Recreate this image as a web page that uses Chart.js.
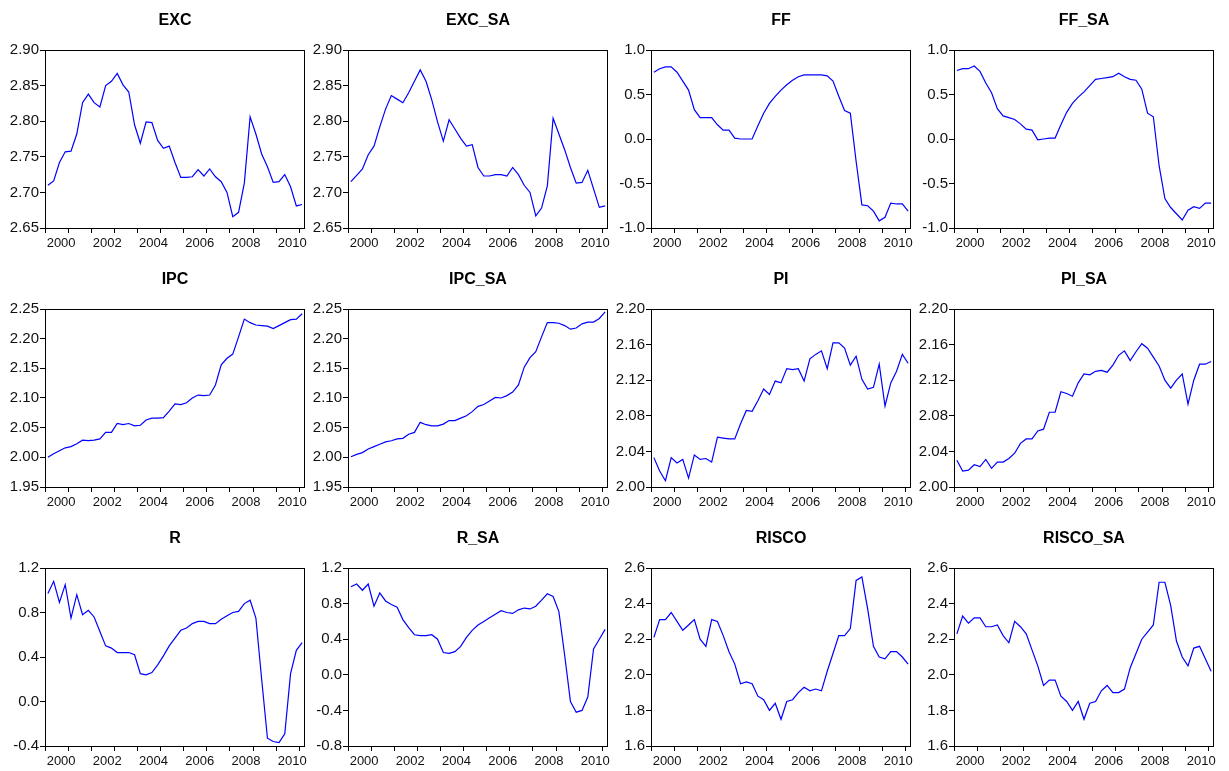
<!DOCTYPE html>
<html>
<head>
<meta charset="utf-8">
<script src="https://cdn.jsdelivr.net/npm/chart.js@4.4.0/dist/chart.umd.min.js"></script>
<style>
  body { margin: 0; background: #fff; width: 1229px; height: 771px; position: relative; overflow: hidden; }
  canvas { position: absolute; }
</style>
</head>
<body>
<script>
// quarterly sample 1999Q1 - 2010Q1
var quarters = [];
for (var yr = 1999; yr <= 2010; yr++) {
  for (var q = 1; q <= 4; q++) {
    if (quarters.length < 45) quarters.push(yr + 'Q' + q);
  }
}
var yearTicks = [1999, 2000, 2001, 2002, 2003, 2004, 2005, 2006, 2007, 2008, 2009, 2010];
var yearLabels = ['', '2000', '', '2002', '', '2004', '', '2006', '', '2008', '', '2010'];

// series values
var exc = [2.710, 2.716, 2.742, 2.757, 2.758, 2.782, 2.826, 2.838, 2.826, 2.820, 2.850, 2.856, 2.867, 2.851, 2.841,
  2.795, 2.769, 2.799, 2.798, 2.773, 2.762, 2.765, 2.742, 2.721, 2.721, 2.722, 2.732, 2.723, 2.733, 2.722,
  2.715, 2.700, 2.666, 2.672, 2.713, 2.806, 2.782, 2.754, 2.736, 2.714, 2.715, 2.725, 2.708, 2.681, 2.683];
var excSa = [2.715, 2.724, 2.733, 2.753, 2.765, 2.792, 2.817, 2.836, 2.831, 2.826, 2.840, 2.856, 2.872, 2.856, 2.830,
  2.799, 2.772, 2.802, 2.789, 2.776, 2.765, 2.767, 2.735, 2.723, 2.723, 2.725, 2.725, 2.723, 2.735, 2.725,
  2.710, 2.700, 2.667, 2.678, 2.709, 2.804, 2.782, 2.760, 2.735, 2.713, 2.714, 2.731, 2.705, 2.679, 2.681];
var ff = [0.75, 0.79, 0.81, 0.81, 0.75, 0.65, 0.55, 0.33, 0.24, 0.24, 0.24, 0.16, 0.10, 0.10, 0.01,
  0.00, 0.00, 0.00, 0.15, 0.29, 0.40, 0.48, 0.55, 0.61, 0.66, 0.70, 0.72, 0.72, 0.72, 0.72,
  0.71, 0.65, 0.48, 0.32, 0.29, -0.25, -0.74, -0.75, -0.81, -0.92, -0.88, -0.72, -0.73, -0.73, -0.81];
var ffSa = [0.77, 0.79, 0.79, 0.82, 0.76, 0.63, 0.52, 0.34, 0.26, 0.24, 0.22, 0.17, 0.11, 0.10, -0.01,
  0.00, 0.01, 0.01, 0.16, 0.30, 0.40, 0.47, 0.53, 0.60, 0.67, 0.68, 0.69, 0.70, 0.74, 0.70,
  0.67, 0.66, 0.56, 0.29, 0.25, -0.30, -0.67, -0.77, -0.84, -0.91, -0.80, -0.76, -0.78, -0.72, -0.72];
var ipc = [2.000, 2.006, 2.011, 2.016, 2.018, 2.023, 2.029, 2.028, 2.029, 2.031, 2.042, 2.042, 2.057, 2.055, 2.057,
  2.053, 2.054, 2.063, 2.066, 2.066, 2.067, 2.078, 2.090, 2.089, 2.092, 2.100, 2.105, 2.104, 2.105, 2.122,
  2.156, 2.167, 2.174, 2.203, 2.233, 2.227, 2.223, 2.222, 2.221, 2.217, 2.222, 2.227, 2.232, 2.233, 2.242];
var ipcSa = [2.001, 2.005, 2.008, 2.014, 2.018, 2.022, 2.026, 2.028, 2.031, 2.032, 2.039, 2.042, 2.059, 2.055, 2.053,
  2.053, 2.056, 2.062, 2.062, 2.066, 2.070, 2.077, 2.086, 2.089, 2.095, 2.101, 2.100, 2.104, 2.110, 2.122,
  2.152, 2.168, 2.178, 2.203, 2.227, 2.227, 2.226, 2.222, 2.216, 2.218, 2.225, 2.228, 2.228, 2.234, 2.245];
var pi = [2.033, 2.018, 2.007, 2.033, 2.027, 2.031, 2.010, 2.036, 2.031, 2.032, 2.028, 2.056, 2.055, 2.054, 2.054,
  2.071, 2.086, 2.085, 2.097, 2.110, 2.104, 2.119, 2.117, 2.133, 2.132, 2.133, 2.119, 2.144, 2.149, 2.153,
  2.133, 2.162, 2.162, 2.156, 2.137, 2.147, 2.121, 2.110, 2.112, 2.138, 2.091, 2.117, 2.130, 2.149, 2.139];
var piSa = [2.030, 2.018, 2.019, 2.025, 2.023, 2.031, 2.021, 2.028, 2.028, 2.032, 2.038, 2.049, 2.054, 2.054, 2.063,
  2.065, 2.084, 2.084, 2.107, 2.105, 2.102, 2.117, 2.127, 2.126, 2.130, 2.131, 2.129, 2.137, 2.148, 2.153,
  2.142, 2.152, 2.161, 2.156, 2.146, 2.136, 2.120, 2.111, 2.120, 2.127, 2.093, 2.120, 2.138, 2.138, 2.141];
var r = [0.97, 1.08, 0.89, 1.05, 0.75, 0.96, 0.78, 0.82, 0.76, 0.63, 0.50, 0.48, 0.44, 0.44, 0.44,
  0.42, 0.25, 0.24, 0.26, 0.33, 0.41, 0.50, 0.57, 0.64, 0.66, 0.70, 0.72, 0.72, 0.70, 0.70,
  0.74, 0.77, 0.80, 0.81, 0.88, 0.91, 0.75, 0.20, -0.33, -0.36, -0.37, -0.29, 0.25, 0.46, 0.53];
var rSa = [0.99, 1.02, 0.95, 1.02, 0.77, 0.92, 0.83, 0.79, 0.76, 0.62, 0.53, 0.45, 0.44, 0.44, 0.45,
  0.40, 0.25, 0.24, 0.26, 0.32, 0.42, 0.50, 0.56, 0.60, 0.64, 0.68, 0.72, 0.70, 0.69, 0.73,
  0.75, 0.74, 0.77, 0.84, 0.91, 0.88, 0.71, 0.22, -0.30, -0.42, -0.40, -0.25, 0.29, 0.40, 0.51];
var risco = [2.21, 2.31, 2.31, 2.35, 2.30, 2.25, 2.28, 2.31, 2.20, 2.16, 2.31, 2.30, 2.22, 2.13, 2.06,
  1.95, 1.96, 1.95, 1.88, 1.86, 1.80, 1.84, 1.75, 1.85, 1.86, 1.90, 1.93, 1.91, 1.92, 1.91,
  2.02, 2.12, 2.22, 2.22, 2.26, 2.53, 2.55, 2.37, 2.16, 2.10, 2.09, 2.13, 2.13, 2.10, 2.06];
var riscoSa = [2.23, 2.33, 2.29, 2.32, 2.32, 2.27, 2.27, 2.28, 2.22, 2.18, 2.30, 2.27, 2.23, 2.14, 2.05,
  1.94, 1.97, 1.97, 1.88, 1.85, 1.80, 1.85, 1.75, 1.84, 1.85, 1.91, 1.94, 1.90, 1.90, 1.92,
  2.04, 2.12, 2.20, 2.24, 2.28, 2.52, 2.52, 2.39, 2.19, 2.10, 2.05, 2.15, 2.16, 2.09, 2.02];

// y tick labels
var excTicks = [2.65, 2.70, 2.75, 2.80, 2.85, 2.90];
var ffTicks = [-1.0, -0.5, 0.0, 0.5, 1.0];
var ipcTicks = [1.95, 2.00, 2.05, 2.10, 2.15, 2.20, 2.25];
var piTicks = [2.00, 2.04, 2.08, 2.12, 2.16, 2.20];
var rTicks = [-0.4, 0.0, 0.4, 0.8, 1.2];
var rSaTicks = [-0.8, -0.4, 0.0, 0.4, 0.8, 1.2];
var riscoTicks = [1.6, 1.8, 2.0, 2.2, 2.4, 2.6];

var panels = [
  { title: 'EXC', values: exc, ticks: excTicks, dec: 2 },
  { title: 'EXC_SA', values: excSa, ticks: excTicks, dec: 2 },
  { title: 'FF', values: ff, ticks: ffTicks, dec: 1 },
  { title: 'FF_SA', values: ffSa, ticks: ffTicks, dec: 1 },
  { title: 'IPC', values: ipc, ticks: ipcTicks, dec: 2 },
  { title: 'IPC_SA', values: ipcSa, ticks: ipcTicks, dec: 2 },
  { title: 'PI', values: pi, ticks: piTicks, dec: 2 },
  { title: 'PI_SA', values: piSa, ticks: piTicks, dec: 2 },
  { title: 'R', values: r, ticks: rTicks, dec: 1 },
  { title: 'R_SA', values: rSa, ticks: rSaTicks, dec: 1 },
  { title: 'RISCO', values: risco, ticks: riscoTicks, dec: 1 },
  { title: 'RISCO_SA', values: riscoSa, ticks: riscoTicks, dec: 1 }
];

// where the plot frames sit on the page
var colLeft = [45, 348, 651, 954];
var rowTop = [50, 309, 568];
var plotW = 260, plotH = 178;
var axisW = 44, titleH = 40, xAxisH = 26, padR = 12, padB = 2;

var fontFam = 'Arial, "Liberation Sans", sans-serif';

// draws the box round the plot area
var framePlugin = {
  id: 'frame',
  afterDraw: function (chart) {
    var a = chart.chartArea, c = chart.ctx;
    c.save();
    c.strokeStyle = '#000';
    c.lineWidth = 1;
    c.strokeRect(Math.round(a.left) + 0.5, Math.round(a.top) + 0.5, Math.round(a.right - a.left) - 1, Math.round(a.bottom - a.top));
    c.restore();
  }
};

panels.forEach(function (p, k) {
  var col = k % 4, row = Math.floor(k / 4);
  var cv = document.createElement('canvas');
  var w = axisW + plotW + padR, h = titleH + plotH + xAxisH + padB;
  cv.width = w; cv.height = h;
  cv.style.left = (colLeft[col] - axisW) + 'px';
  cv.style.top = (rowTop[row] - titleH) + 'px';
  cv.style.width = w + 'px'; cv.style.height = h + 'px';
  document.body.appendChild(cv);

  var pts = p.values.map(function (v, i) {
    return { x: 1999 + (i + 0.5) / 4, y: v };   // quarter mid-points
  });

  new Chart(cv.getContext('2d'), {
    type: 'line',
    data: {
      labels: quarters,
      datasets: [{
        data: pts,
        borderColor: '#0000ff',
        borderWidth: 1.2,
        pointRadius: 0,
        tension: 0,
        fill: false
      }]
    },
    options: {
      responsive: false,
      animation: false,
      events: [],
      layout: { padding: { left: 0, right: padR, top: 0, bottom: padB } },
      plugins: {
        legend: { display: false },
        tooltip: { enabled: false },
        title: {
          display: true,
          text: p.title,
          fullSize: false,
          color: '#000',
          font: { family: fontFam, size: 16, weight: 'bold', lineHeight: 1.2 },
          padding: { top: 1, bottom: 19.8 }
        }
      },
      scales: {
        x: {
          type: 'linear',
          min: 1999,
          max: 2010.25,
          afterBuildTicks: function (s) { s.ticks = yearTicks.map(function (v) { return { value: v }; }); },
          afterFit: function (s) { s.height = xAxisH; },
          border: { display: false },
          grid: { drawOnChartArea: false, drawTicks: true, tickLength: 5, color: '#000', lineWidth: 1 },
          ticks: {
            autoSkip: false, maxRotation: 0, padding: 3, labelOffset: -7,
            color: '#111', font: { family: fontFam, size: 13 },
            callback: function (v) { return yearLabels[yearTicks.indexOf(v)] || ''; }
          }
        },
        y: {
          min: p.ticks[0],
          max: p.ticks[p.ticks.length - 1],
          afterBuildTicks: function (s) { s.ticks = p.ticks.map(function (v) { return { value: v }; }); },
          afterFit: function (s) { s.width = axisW; },
          border: { display: false },
          grid: { drawOnChartArea: false, drawTicks: true, tickLength: 5, color: '#000', lineWidth: 1 },
          ticks: {
            padding: 1, color: '#111', font: { family: fontFam, size: 15 },
            callback: function (v) { return Number(v).toFixed(p.dec); }
          }
        }
      }
    },
    plugins: [framePlugin]
  });
});
</script>
</body>
</html>
